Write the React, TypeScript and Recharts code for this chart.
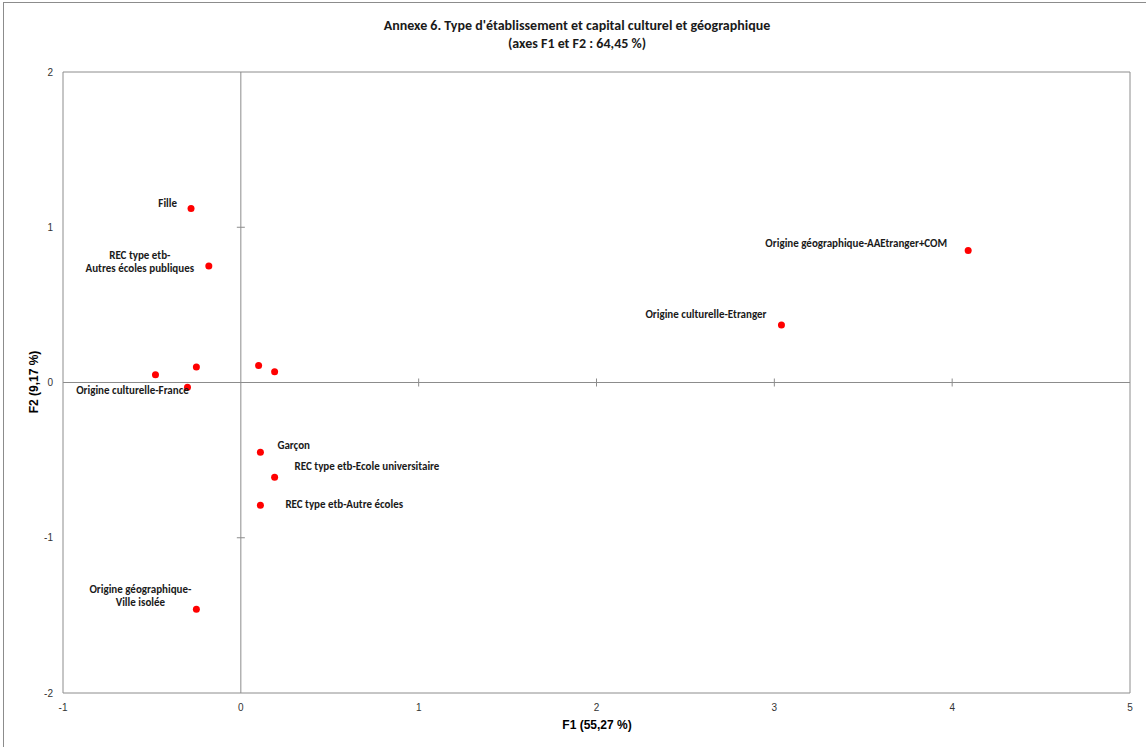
import { ReferenceDot, ReferenceLine, Scatter, ScatterChart, XAxis, YAxis } from "recharts";

const labels = [
  "Fille",
  "REC type etb-\nAutres écoles publiques",
  "",
  "",
  "Origine culturelle-France",
  "",
  "",
  "Origine géographique-AAEtranger+COM",
  "Origine culturelle-Etranger",
  "Garçon",
  "REC type etb-Ecole universitaire",
  "REC type etb-Autre écoles",
  "Origine géographique-\nVille isolée",
];
const f1 = [-0.28, -0.18, -0.48, -0.25, -0.3, 0.1, 0.19, 4.09, 3.04, 0.11, 0.19, 0.11, -0.25];
const f2 = [1.12, 0.75, 0.05, 0.1, -0.03, 0.11, 0.07, 0.85, 0.37, -0.45, -0.61, -0.79, -1.46];

const xTicks = [-1, 0, 1, 2, 3, 4, 5];
const yTicks = [-2, -1, 0, 1, 2];

const points = labels.map((name, i) => ({ name, f1: f1[i], f2: f2[i] }));

// placement of each label relative to its point: [anchor, dx, dy]
const labelPos: Record<string, [string, number, number]> = {
  "Fille": ["end", -14, -2],
  "REC type etb-\nAutres écoles publiques": ["middle", -69, -7],
  "Origine culturelle-France": ["middle", -55, 7],
  "Origine géographique-AAEtranger+COM": ["end", -21, -4],
  "Origine culturelle-Etranger": ["end", -15, -7],
  "Garçon": ["start", 17, -3],
  "REC type etb-Ecole universitaire": ["start", 20, -7],
  "REC type etb-Autre écoles": ["start", 25, 3],
  "Origine géographique-\nVille isolée": ["middle", -56, -16],
};

const labelFont = "Carlito, Calibri, Lato, sans-serif";
const axisFont = "'Liberation Sans', Arial, sans-serif";

function PointShape(props: any) {
  const { cx, cy, payload } = props;
  const pos = labelPos[payload.name];
  const lines = payload.name ? payload.name.split("\n") : [];
  return (
    <g>
      <circle cx={cx} cy={cy} r={3.5} fill="#ff0000" />
      {pos &&
        lines.map((line: string, k: number) => (
          <text
            key={k}
            x={cx + pos[1]}
            y={cy + pos[2] + k * 13}
            textAnchor={pos[0] as any}
            fontSize={11}
            fontWeight="bold"
            fontFamily={labelFont}
            fill="#1a1a1a"
          >
            {line}
          </text>
        ))}
    </g>
  );
}

const vTick = (p: any) => <line x1={p.cx} x2={p.cx} y1={p.cy - 4} y2={p.cy + 4} stroke="#8c8c8c" />;
const hTick = (p: any) => <line x1={p.cx - 4} x2={p.cx + 4} y1={p.cy} y2={p.cy} stroke="#8c8c8c" />;

export default function App() {
  return (
    <div style={{ position: "absolute", left: 0, top: 0, width: 1146, height: 747, background: "#fff", overflow: "hidden" }}>
      <div
        style={{
          position: "absolute",
          left: 3,
          top: 2,
          width: 1160,
          height: 760,
          border: "1px solid #8c8c8c",
        }}
      />
      <div
        style={{
          position: "absolute",
          left: 0,
          width: 1154,
          top: 17,
          textAlign: "center",
          fontFamily: labelFont,
          fontWeight: "bold",
          fontSize: 14,
          lineHeight: "18px",
          color: "#1a1a1a",
        }}
      >
        Annexe 6. Type d'établissement et capital culturel et géographique
        <br />
        (axes F1 et F2 : 64,45 %)
      </div>
      <div
        style={{
          position: "absolute",
          left: 497,
          width: 200,
          top: 718,
          textAlign: "center",
          fontFamily: axisFont,
          fontWeight: "bold",
          fontSize: 12,
        }}
      >
        F1 (55,27 %)
      </div>
      <div
        style={{
          position: "absolute",
          left: 34 - 100,
          width: 200,
          top: 375,
          textAlign: "center",
          transform: "rotate(-90deg)",
          fontFamily: axisFont,
          fontWeight: "bold",
          fontSize: 12,
        }}
      >
        F2 (9,17 %)
      </div>
      <div style={{ position: "absolute", left: 0, top: 0 }}>
        <ScatterChart width={1146} height={747} margin={{ top: 72, right: 16, bottom: 24, left: 8 }}>
          <XAxis
            type="number"
            dataKey="f1"
            domain={[-1, 5]}
            ticks={xTicks}
            interval={0}
            axisLine={false}
            tickLine={false}
            height={30}
            tickMargin={5}
            tick={{ fontSize: 10, fill: "#333", fontFamily: axisFont }}
            allowDataOverflow
          />
          <YAxis
            type="number"
            dataKey="f2"
            domain={[-2, 2]}
            ticks={yTicks}
            interval={0}
            axisLine={false}
            tickLine={false}
            width={55}
            tickMargin={4}
            tick={{ fontSize: 10, fill: "#333", fontFamily: axisFont }}
            allowDataOverflow
          />
          <ReferenceLine x={-1} stroke="#8c8c8c" />
          <ReferenceLine x={5} stroke="#8c8c8c" />
          <ReferenceLine y={2} stroke="#8c8c8c" />
          <ReferenceLine y={-2} stroke="#8c8c8c" />
          <ReferenceLine x={0} stroke="#8c8c8c" />
          <ReferenceLine y={0} stroke="#8c8c8c" />
          {xTicks
            .filter((t) => t > -1 && t < 5 && t !== 0)
            .map((t) => (
              <ReferenceDot key={"x" + t} x={t} y={0} shape={vTick} />
            ))}
          {yTicks
            .filter((t) => t > -2 && t < 2 && t !== 0)
            .map((t) => (
              <ReferenceDot key={"y" + t} x={0} y={t} shape={hTick} />
            ))}
          <Scatter data={points} shape={PointShape} isAnimationActive={false} />
        </ScatterChart>
      </div>
    </div>
  );
}
